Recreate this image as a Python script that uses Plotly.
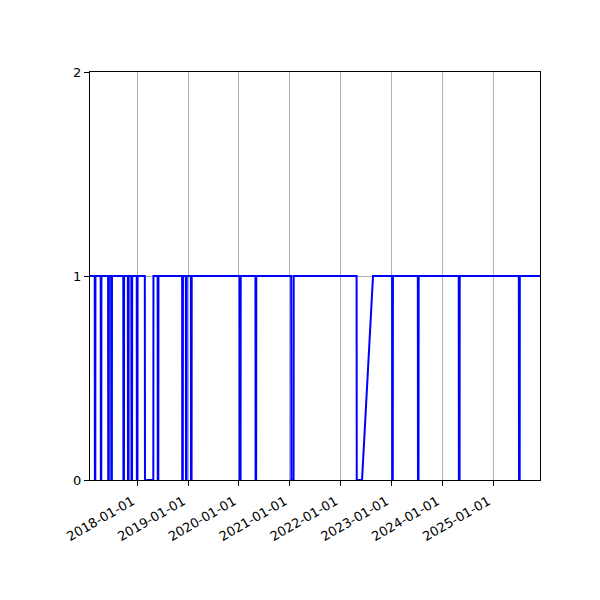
import datetime as dt
import plotly.graph_objects as go

# series limits
first_day = "2017-01-26"
last_day = "2025-12-04"

# outages: value drops to 0 on off_from, stays 0 to off_to, back to 1 on back_on
off_from = ["2017-03-02", "2017-04-14", "2017-06-06", "2017-06-28", "2017-09-23",
            "2017-10-26", "2017-11-20", "2017-12-29", "2018-02-25", "2018-05-28",
            "2018-11-20", "2018-12-17", "2019-01-22", "2020-01-07", "2020-04-30",
            "2021-01-12", "2022-04-27", "2023-01-07", "2023-07-11", "2024-04-30",
            "2025-07-06"]
off_to = ["2017-03-05", "2017-04-17", "2017-06-10", "2017-07-02", "2017-09-27",
          "2017-10-30", "2017-11-24", "2018-01-02", "2018-04-26", "2018-06-01",
          "2018-11-24", "2018-12-21", "2019-01-26", "2020-01-13", "2020-05-04",
          "2021-01-28", "2022-06-04", "2023-01-11", "2023-07-15", "2024-05-05",
          "2025-07-11"]
back_on = ["2017-03-06", "2017-04-18", "2017-06-11", "2017-07-03", "2017-09-28",
           "2017-10-31", "2017-11-25", "2018-01-03", "2018-04-27", "2018-06-02",
           "2018-11-25", "2018-12-22", "2019-01-27", "2020-01-14", "2020-05-05",
           "2021-01-29", "2022-08-22", "2023-01-12", "2023-07-16", "2024-05-06",
           "2025-07-12"]

year_ticks = ["2018-01-01", "2019-01-01", "2020-01-01", "2021-01-01",
              "2022-01-01", "2023-01-01", "2024-01-01", "2025-01-01"]


def day_before(s):
    d = dt.date.fromisoformat(s) - dt.timedelta(days=1)
    return d.isoformat()


x = [first_day]
y = [1]
for a, b, c in zip(off_from, off_to, back_on):
    x += [day_before(a), a, b, c]
    y += [1, 0, 0, 1]
x.append(last_day)
y.append(1)

fig = go.Figure()
fig.add_trace(go.Scatter(x=x, y=y, mode="lines",
                         line=dict(color="#0000ff", width=2)))

fnt = dict(family="DejaVu Sans", size=13, color="black")
# page body has an 8px margin, so shift the plot area back by 8px
fig.update_layout(
    width=600, height=600,
    margin=dict(l=82, r=68, t=64, b=128),
    paper_bgcolor="white", plot_bgcolor="white",
    showlegend=False,
    font=fnt,
)
fig.update_xaxes(
    type="date", range=[first_day, last_day],
    tickvals=year_ticks, ticktext=year_ticks, tickangle=-30,
    ticklabelshift=-5, ticklabelstandoff=3,
    showgrid=True, gridcolor="#b0b0b0", gridwidth=1,
    showline=True, linecolor="black", linewidth=1, mirror=True,
    ticks="outside", ticklen=5, tickcolor="black", zeroline=False,
)
fig.update_yaxes(
    range=[0, 2], tickvals=[0, 1, 2],
    showgrid=True, gridcolor="#b0b0b0", gridwidth=1,
    showline=True, linecolor="black", linewidth=1, mirror=True,
    ticks="outside", ticklen=5, tickcolor="black", zeroline=False,
)

fig.write_html("out.html")
